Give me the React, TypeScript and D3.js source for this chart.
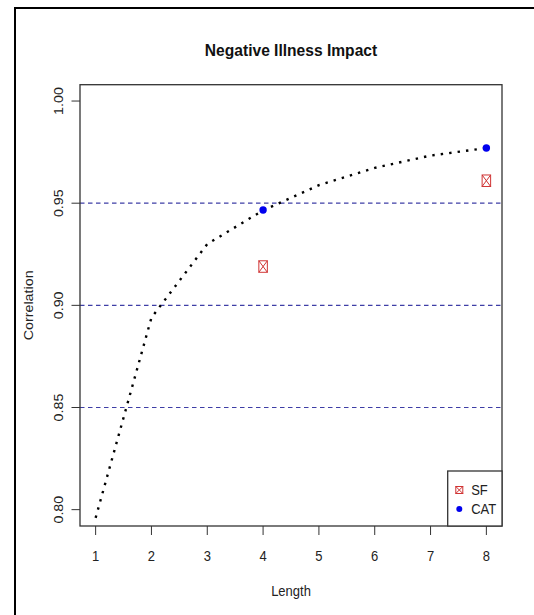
import * as d3 from "d3";

// ---------------------------------------------------------------------------
// Data
// ---------------------------------------------------------------------------

const lengths = [1, 2, 3, 4, 5, 6, 7, 8];
const curveValues = [0.796, 0.894, 0.93, 0.9465, 0.9588, 0.9673, 0.9733, 0.977];

const pointLengths = [4, 8];
const sfValues = [0.919, 0.961];
const catValues = [0.9467, 0.977];

const refLines = [0.85, 0.9, 0.95];
const xTicks = [1, 2, 3, 4, 5, 6, 7, 8];
const yTicks = [0.8, 0.85, 0.9, 0.95, 1.0];

const legendItems = ["SF", "CAT"];

// ---------------------------------------------------------------------------
// Style / layout
// ---------------------------------------------------------------------------

const W = 534;
const H = 615;
const PLOT = { left: 80, right: 502, top: 84.7, bottom: 526 };
const FONT = "'Liberation Sans', Arial, Helvetica, sans-serif";
const REF_COLOR = "#3e3ea6";
const SF_COLOR = "#d03434";
const CAT_COLOR = "#0000ee";
const AXIS_COLOR = "#333";
const TEXT_FILL = "#222";
// the reference picture is slightly stretched vertically
const STRETCH = 1.1;

export default function App() {
  const x = d3.scaleLinear().domain([0.72, 8.28]).range([PLOT.left, PLOT.right]);
  const y = d3.scaleLinear().domain([0.792, 1.008]).range([PLOT.bottom, PLOT.top]);

  const line = d3
    .line<number>()
    .x((_, i) => x(lengths[i]))
    .y((d) => y(d));

  const cx = (PLOT.left + PLOT.right) / 2;
  const cy = (PLOT.top + PLOT.bottom) / 2;

  // legend box
  const legW = 54.3;
  const legH = 55;
  const legX = PLOT.right - legW;
  const legY = PLOT.bottom - legH;

  const sfMark = (px: number, py: number, w: number, h: number, key: string) => (
    <g key={key} stroke={SF_COLOR} strokeWidth={1} fill="none">
      <rect x={px - w / 2} y={py - h / 2} width={w} height={h} />
      <line x1={px - w / 2} y1={py - h / 2} x2={px + w / 2} y2={py + h / 2} />
      <line x1={px + w / 2} y1={py - h / 2} x2={px - w / 2} y2={py + h / 2} />
    </g>
  );

  // horizontal text, stretched a bit vertically
  const hText = (tx: number, ty: number, label: string, opts: Record<string, unknown> = {}) => (
    <text
      transform={`translate(${tx},${ty}) scale(1,${STRETCH})`}
      textAnchor="middle"
      fontFamily={FONT}
      fontSize={13}
      fill={TEXT_FILL}
      {...opts}
    >
      {label}
    </text>
  );

  // vertical text (reads bottom to top), stretched along its length
  const vText = (tx: number, ty: number, label: string) => (
    <text
      transform={`translate(${tx},${ty}) scale(1,${STRETCH}) rotate(-90)`}
      textAnchor="middle"
      fontFamily={FONT}
      fontSize={13}
      fill={TEXT_FILL}
    >
      {label}
    </text>
  );

  return (
    <div style={{ position: "absolute", left: 0, top: 0 }}>
      <svg width={W} height={H} style={{ display: "block", background: "#fff" }}>
        {/* outer frame (cropped on the right and bottom) */}
        <rect x={15} y={8} width={W + 20} height={H + 20} fill="none" stroke="#000" strokeWidth={2} />

        {/* title */}
        {hText(cx, 56, "Negative Illness Impact", { fontWeight: "bold", fontSize: 15.6, fill: "#111" })}

        {/* reference lines */}
        {refLines.map((v) => (
          <line
            key={v}
            x1={PLOT.left}
            x2={PLOT.right}
            y1={y(v)}
            y2={y(v)}
            stroke={REF_COLOR}
            strokeWidth={1.2}
            strokeDasharray="4.5,3.5"
          />
        ))}

        {/* dotted curve */}
        <path
          d={line(curveValues) ?? ""}
          fill="none"
          stroke="#000"
          strokeWidth={2.4}
          strokeDasharray="2.4,6.1"
        />

        {/* SF points */}
        {pointLengths.map((l, i) => sfMark(x(l), y(sfValues[i]), 8.5, 11.5, `sf${l}`))}

        {/* CAT points */}
        {pointLengths.map((l, i) => (
          <circle key={`cat${l}`} cx={x(l)} cy={y(catValues[i])} r={3.7} fill={CAT_COLOR} />
        ))}

        {/* plot box */}
        <rect
          x={PLOT.left}
          y={PLOT.top}
          width={PLOT.right - PLOT.left}
          height={PLOT.bottom - PLOT.top}
          fill="none"
          stroke={AXIS_COLOR}
          strokeWidth={1.3}
        />

        {/* x axis */}
        {xTicks.map((t) => (
          <g key={`x${t}`}>
            <line x1={x(t)} x2={x(t)} y1={PLOT.bottom} y2={PLOT.bottom + 9} stroke={AXIS_COLOR} strokeWidth={1} />
            {hText(x(t), 561, String(t))}
          </g>
        ))}

        {/* y axis */}
        {yTicks.map((t) => (
          <g key={`y${t}`}>
            <line x1={PLOT.left - 8.5} x2={PLOT.left} y1={y(t)} y2={y(t)} stroke={AXIS_COLOR} strokeWidth={1} />
            {vText(63, y(t), t.toFixed(2))}
          </g>
        ))}

        {/* axis titles */}
        {hText(cx, 596, "Length")}
        {vText(33, cy, "Correlation")}

        {/* legend */}
        <rect x={legX} y={legY} width={legW} height={legH} fill="#fff" stroke={AXIS_COLOR} strokeWidth={1.3} />
        {legendItems.map((name, i) => {
          const ly = legY + 19 + i * 19;
          return (
            <g key={name}>
              {name === "SF"
                ? sfMark(legX + 11.6, ly, 7, 7, "legsf")
                : <circle cx={legX + 11.6} cy={ly} r={3} fill={CAT_COLOR} />}
              {hText(legX + 23.5, ly + 4.7, name, { textAnchor: "start" })}
            </g>
          );
        })}
      </svg>
    </div>
  );
}
